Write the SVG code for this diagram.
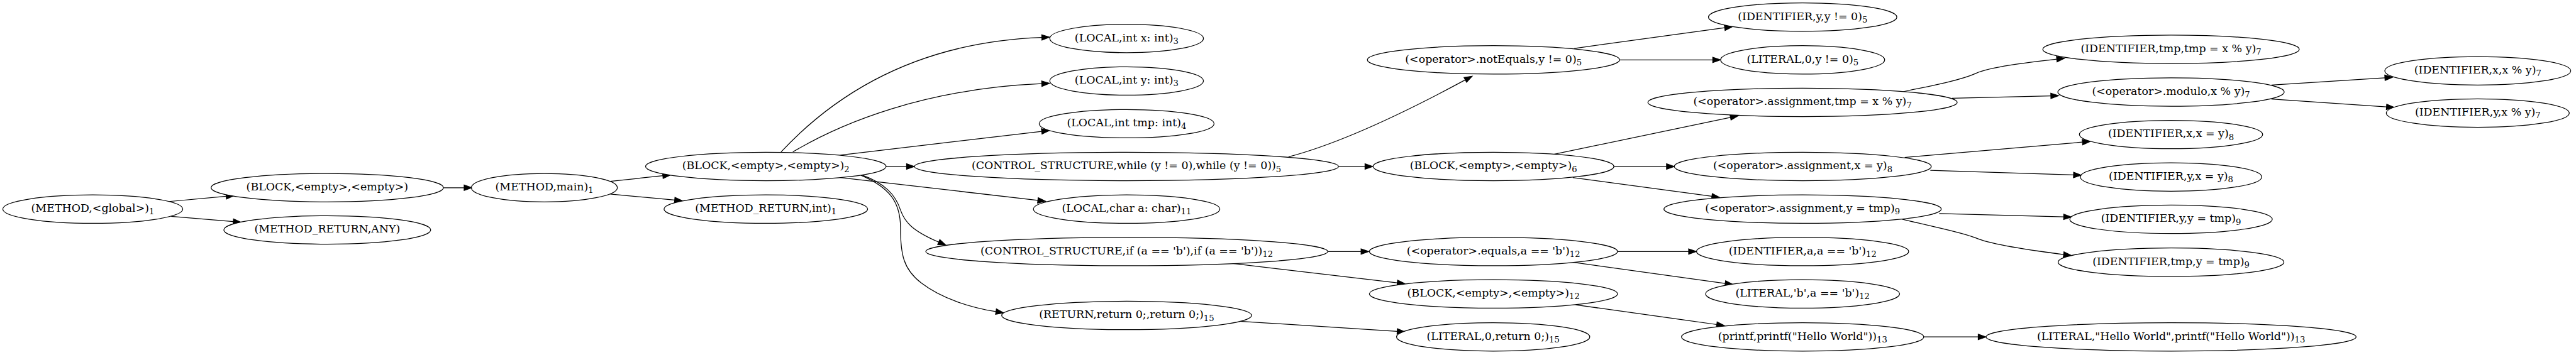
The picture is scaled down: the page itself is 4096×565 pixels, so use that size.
<svg xmlns="http://www.w3.org/2000/svg" width="4096" height="565" viewBox="0 0 4096 565">
<style>
.n ellipse{fill:#fff;stroke:#000;stroke-width:1.33}
text{font-family:"DejaVu Serif","Liberation Serif",serif;font-size:18.5px;text-anchor:middle;fill:#000}
.s{font-size:14px}
#edges path{fill:none;stroke:#000;stroke-width:1.33;marker-end:url(#a)}
</style>
<defs>
<marker id="a" markerUnits="userSpaceOnUse" viewBox="0 0 13.33 9.33" markerWidth="13.33" markerHeight="9.33" refX="0" refY="4.665" orient="auto" overflow="visible">
<path d="M0,0 L13.33,4.665 L0,9.33 Z" fill="#000" stroke="#000" stroke-width="1.2"/>
</marker>
</defs>
<rect width="4096" height="565" fill="#fff"/>
<g transform="scale(0.942)">
<g id="edges">
<path d="M285,340.5 L381.8,331.7"/>
<path d="M289,365.6 L393.7,374.4"/>
<path d="M748,317.2 L783.4,317.2"/>
<path d="M1030,306.4 L1118.8,296.9"/>
<path d="M1030,327.8 L1138.8,338"/>
<path d="M1318.4,256.7 C1392,178 1525,72 1758.5,63.3"/>
<path d="M1338.3,256.7 C1420,208 1560,150 1758.4,141.4"/>
<path d="M1418.6,262 L1758.3,222"/>
<path d="M1495.7,281.3 L1530.2,281.3"/>
<path d="M1418.6,299.9 L1751.8,338.5"/>
<path d="M1453,295 C1495,310 1512,330 1520,355 C1527,375 1540,390 1584.5,409"/>
<path d="M1453,296 C1500,316 1520,340 1520,385 C1520,430 1525,455 1555,478 C1590,505 1640,520 1681.1,526.5"/>
<path d="M2175,265 C2270,240 2390,180 2473.3,135"/>
<path d="M2259.3,281.3 L2304,281.3"/>
<path d="M2657.2,81.8 L2911.2,46.9"/>
<path d="M2733.7,101.2 L2891,101.2"/>
<path d="M2623.7,260.5 L2920.9,198.3"/>
<path d="M2724.2,281.3 L2813,281.3"/>
<path d="M2654.8,299.9 L2889.6,331.7"/>
<path d="M3211.7,155 C3270,143 3310,135 3335,124 C3360,113 3420,106 3471.7,100"/>
<path d="M3295,166 L3461.7,162"/>
<path d="M3834.1,143.6 L4025.6,131.4"/>
<path d="M3834.1,167.3 L4028.3,180.6"/>
<path d="M3215,266 L3515,240.1"/>
<path d="M3258.3,287.7 L3500,295.6"/>
<path d="M3273.3,360.7 L3483.4,366.3"/>
<path d="M3210,370 C3270,385 3310,392 3335,402 C3360,413 3420,422 3483.3,430"/>
<path d="M2241.7,425 L2297.4,425"/>
<path d="M2079.2,445 L2358.5,477.8"/>
<path d="M2730.4,425 L2850.3,425"/>
<path d="M2654.8,443.1 L2912.1,478.8"/>
<path d="M2659.6,515 L2897.8,548.3"/>
<path d="M3247.2,569.2 L3339.1,569.2"/>
<path d="M2088.8,542.5 L2358.4,559.9"/>
</g>
<g id="n1" class="n"><ellipse cx="156.6" cy="353.3" rx="151.9" ry="24"/><text x="156.6" y="357.9">(METHOD,&lt;global&gt;)<tspan class="s" dy="4.5">1</tspan></text></g>
<g id="n2" class="n"><ellipse cx="552.4" cy="317.1" rx="196.1" ry="24"/><text x="552.4" y="321.7">(BLOCK,&lt;empty&gt;,&lt;empty&gt;)</text></g>
<g id="n3" class="n"><ellipse cx="552.4" cy="388.5" rx="174.6" ry="24"/><text x="552.4" y="393.1">(METHOD_RETURN,ANY)</text></g>
<g id="n4" class="n"><ellipse cx="918.9" cy="317.1" rx="123.2" ry="24"/><text x="918.9" y="321.7">(METHOD,main)<tspan class="s" dy="4.5">1</tspan></text></g>
<g id="n5" class="n"><ellipse cx="1292.7" cy="281.3" rx="203" ry="24"/><text x="1292.7" y="285.9">(BLOCK,&lt;empty&gt;,&lt;empty&gt;)<tspan class="s" dy="4.5">2</tspan></text></g>
<g id="n6" class="n"><ellipse cx="1292.7" cy="353.3" rx="171.9" ry="24"/><text x="1292.7" y="357.9">(METHOD_RETURN,int)<tspan class="s" dy="4.5">1</tspan></text></g>
<g id="n7" class="n"><ellipse cx="1901.7" cy="65" rx="129.7" ry="24"/><text x="1901.7" y="69.6">(LOCAL,int x: int)<tspan class="s" dy="4.5">3</tspan></text></g>
<g id="n8" class="n"><ellipse cx="1901.7" cy="136.8" rx="129.7" ry="24"/><text x="1901.7" y="141.4">(LOCAL,int y: int)<tspan class="s" dy="4.5">3</tspan></text></g>
<g id="n9" class="n"><ellipse cx="1901.7" cy="209" rx="147.6" ry="24"/><text x="1901.7" y="213.6">(LOCAL,int tmp: int)<tspan class="s" dy="4.5">4</tspan></text></g>
<g id="n10" class="n"><ellipse cx="1901.4" cy="281.3" rx="357.9" ry="24"/><text x="1901.4" y="285.9">(CONTROL_STRUCTURE,while (y != 0),while (y != 0))<tspan class="s" dy="4.5">5</tspan></text></g>
<g id="n11" class="n"><ellipse cx="1901.7" cy="353.3" rx="157.4" ry="24"/><text x="1901.7" y="357.9">(LOCAL,char a: char)<tspan class="s" dy="4.5">11</tspan></text></g>
<g id="n12" class="n"><ellipse cx="1901.9" cy="425" rx="339.3" ry="24"/><text x="1901.9" y="429.6">(CONTROL_STRUCTURE,if (a == 'b'),if (a == 'b'))<tspan class="s" dy="4.5">12</tspan></text></g>
<g id="n13" class="n"><ellipse cx="1901.7" cy="533" rx="210.9" ry="24"/><text x="1901.7" y="537.6">(RETURN,return 0;,return 0;)<tspan class="s" dy="4.5">15</tspan></text></g>
<g id="n14" class="n"><ellipse cx="2520.9" cy="101.2" rx="212.9" ry="24"/><text x="2520.9" y="105.8">(&lt;operator&gt;.notEquals,y != 0)<tspan class="s" dy="4.5">5</tspan></text></g>
<g id="n15" class="n"><ellipse cx="2520.9" cy="281.3" rx="203.3" ry="24"/><text x="2520.9" y="285.9">(BLOCK,&lt;empty&gt;,&lt;empty&gt;)<tspan class="s" dy="4.5">6</tspan></text></g>
<g id="n16" class="n"><ellipse cx="2520.9" cy="425" rx="209.5" ry="24"/><text x="2520.9" y="429.6">(&lt;operator&gt;.equals,a == 'b')<tspan class="s" dy="4.5">12</tspan></text></g>
<g id="n17" class="n"><ellipse cx="2520.9" cy="496.6" rx="209.5" ry="24"/><text x="2520.9" y="501.2">(BLOCK,&lt;empty&gt;,&lt;empty&gt;)<tspan class="s" dy="4.5">12</tspan></text></g>
<g id="n18" class="n"><ellipse cx="2520.4" cy="569.2" rx="163.1" ry="24"/><text x="2520.4" y="573.8">(LITERAL,0,return 0;)<tspan class="s" dy="4.5">15</tspan></text></g>
<g id="n19" class="n"><ellipse cx="3042.8" cy="28.9" rx="159" ry="24"/><text x="3042.8" y="33.5">(IDENTIFIER,y,y != 0)<tspan class="s" dy="4.5">5</tspan></text></g>
<g id="n20" class="n"><ellipse cx="3042.8" cy="101.2" rx="138.5" ry="24"/><text x="3042.8" y="105.8">(LITERAL,0,y != 0)<tspan class="s" dy="4.5">5</tspan></text></g>
<g id="n21" class="n"><ellipse cx="3042.6" cy="173" rx="261" ry="24"/><text x="3042.6" y="177.6">(&lt;operator&gt;.assignment,tmp = x % y)<tspan class="s" dy="4.5">7</tspan></text></g>
<g id="n22" class="n"><ellipse cx="3043" cy="281.3" rx="216.9" ry="24"/><text x="3043" y="285.9">(&lt;operator&gt;.assignment,x = y)<tspan class="s" dy="4.5">8</tspan></text></g>
<g id="n23" class="n"><ellipse cx="3042.7" cy="353.3" rx="234.1" ry="24"/><text x="3042.7" y="357.9">(&lt;operator&gt;.assignment,y = tmp)<tspan class="s" dy="4.5">9</tspan></text></g>
<g id="n24" class="n"><ellipse cx="3042.7" cy="425" rx="179.1" ry="24"/><text x="3042.7" y="429.6">(IDENTIFIER,a,a == 'b')<tspan class="s" dy="4.5">12</tspan></text></g>
<g id="n25" class="n"><ellipse cx="3042.7" cy="496.6" rx="163.8" ry="24"/><text x="3042.7" y="501.2">(LITERAL,'b',a == 'b')<tspan class="s" dy="4.5">12</tspan></text></g>
<g id="n26" class="n"><ellipse cx="3042.8" cy="569.2" rx="204.5" ry="24"/><text x="3042.8" y="573.8">(printf,printf("Hello World"))<tspan class="s" dy="4.5">13</tspan></text></g>
<g id="n27" class="n"><ellipse cx="3664.6" cy="83.3" rx="216.5" ry="24"/><text x="3664.6" y="87.9">(IDENTIFIER,tmp,tmp = x % y)<tspan class="s" dy="4.5">7</tspan></text></g>
<g id="n28" class="n"><ellipse cx="3664.6" cy="155.5" rx="191.1" ry="24"/><text x="3664.6" y="160.1">(&lt;operator&gt;.modulo,x % y)<tspan class="s" dy="4.5">7</tspan></text></g>
<g id="n29" class="n"><ellipse cx="3664.6" cy="227.3" rx="154.7" ry="24"/><text x="3664.6" y="231.9">(IDENTIFIER,x,x = y)<tspan class="s" dy="4.5">8</tspan></text></g>
<g id="n30" class="n"><ellipse cx="3664.6" cy="299" rx="153.1" ry="24"/><text x="3664.6" y="303.6">(IDENTIFIER,y,x = y)<tspan class="s" dy="4.5">8</tspan></text></g>
<g id="n31" class="n"><ellipse cx="3664.6" cy="370.5" rx="170.9" ry="24"/><text x="3664.6" y="375.1">(IDENTIFIER,y,y = tmp)<tspan class="s" dy="4.5">9</tspan></text></g>
<g id="n32" class="n"><ellipse cx="3664.6" cy="443" rx="190.6" ry="24"/><text x="3664.6" y="447.6">(IDENTIFIER,tmp,y = tmp)<tspan class="s" dy="4.5">9</tspan></text></g>
<g id="n33" class="n"><ellipse cx="3664.7" cy="569.2" rx="312.3" ry="24"/><text x="3664.7" y="573.8">(LITERAL,"Hello World",printf("Hello World"))<tspan class="s" dy="4.5">13</tspan></text></g>
<g id="n34" class="n"><ellipse cx="4182.4" cy="119.6" rx="156.9" ry="24"/><text x="4182.4" y="124.2">(IDENTIFIER,x,x % y)<tspan class="s" dy="4.5">7</tspan></text></g>
<g id="n35" class="n"><ellipse cx="4182.4" cy="191" rx="154.4" ry="24"/><text x="4182.4" y="195.6">(IDENTIFIER,y,x % y)<tspan class="s" dy="4.5">7</tspan></text></g>
</g>
</svg>
